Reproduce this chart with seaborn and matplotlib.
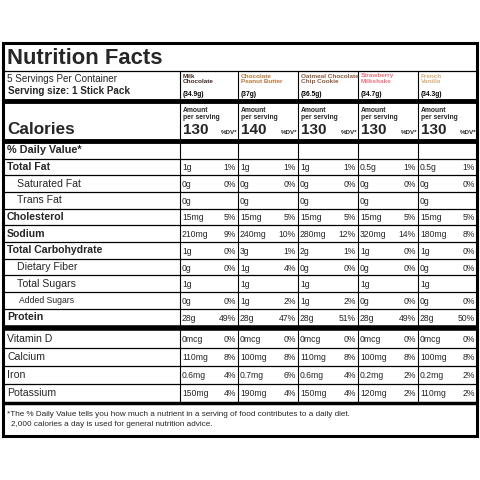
import matplotlib
matplotlib.use("Agg")
import matplotlib.pyplot as plt
import seaborn as sns

sns.set_style("white")
plt.rcParams['font.family'] = ['Liberation Sans', 'DejaVu Sans']

products = ["Milk\nChocolate", "Chocolate\nPeanut Butter", "Oatmeal Chocolate\nChip Cookie", "Strawberry\nMilkshake", "French\nVanilla"]
weights = ["(34.9g)", "(37g)", "(36.5g)", "(34.7g)", "(34.3g)"]
product_colors = ["#3a2a22", "#b8783c", "#8a5a3c", "#e8707e", "#d8b07a"]
calories = [130, 140, 130, 130, 130]

main_labels = ["Total Fat", "Saturated Fat", "Trans Fat", "Cholesterol", "Sodium",
               "Total Carbohydrate", "Dietary Fiber", "Total Sugars", "Added Sugars", "Protein"]
main_bold = [True, False, False, True, True, True, False, False, False, True]
main_indent = [0, 1, 1, 0, 0, 0, 1, 1, 1, 0]
main_amounts = [
    ["1g", "1g", "1g", "0.5g", "0.5g"],
    ["0g", "0g", "0g", "0g", "0g"],
    ["0g", "0g", "0g", "0g", "0g"],
    ["15mg", "15mg", "15mg", "15mg", "15mg"],
    ["210mg", "240mg", "280mg", "320mg", "180mg"],
    ["1g", "3g", "2g", "1g", "1g"],
    ["0g", "1g", "0g", "0g", "0g"],
    ["1g", "1g", "1g", "1g", "1g"],
    ["0g", "1g", "1g", "0g", "0g"],
    ["28g", "28g", "28g", "28g", "28g"],
]
main_dv = [
    ["1%", "1%", "1%", "1%", "1%"],
    ["0%", "0%", "0%", "0%", "0%"],
    ["", "", "", "", ""],
    ["5%", "5%", "5%", "5%", "5%"],
    ["9%", "10%", "12%", "14%", "8%"],
    ["0%", "1%", "1%", "0%", "0%"],
    ["0%", "4%", "0%", "0%", "0%"],
    ["", "", "", "", ""],
    ["0%", "2%", "2%", "0%", "0%"],
    ["49%", "47%", "51%", "49%", "50%"],
]
vit_labels = ["Vitamin D", "Calcium", "Iron", "Potassium"]
vit_amounts = [
    ["0mcg", "0mcg", "0mcg", "0mcg", "0mcg"],
    ["110mg", "100mg", "110mg", "100mg", "100mg"],
    ["0.6mg", "0.7mg", "0.6mg", "0.2mg", "0.2mg"],
    ["150mg", "190mg", "150mg", "120mg", "110mg"],
]
vit_dv = [
    ["0%", "0%", "0%", "0%", "0%"],
    ["8%", "8%", "8%", "8%", "8%"],
    ["4%", "6%", "4%", "2%", "2%"],
    ["4%", "4%", "4%", "2%", "2%"],
]

fig = plt.figure(figsize=(4.8, 4.8), dpi=100)
ax = fig.add_axes([0, 0, 1, 1])
ax.set_xlim(0, 480)
ax.set_ylim(480, 0)
ax.axis("off")

L, R, T, B = 3, 477, 43, 436
colx = [180, 238, 298, 358, 418, 477]

def hl(y, lw, x0=L, x1=R):
    ax.plot([x0, x1], [y, y], color="black", lw=lw, solid_capstyle="butt")

ax.plot([L, R, R, L, L], [T, T, B, B, T], color="black", lw=2.2, solid_joinstyle="miter")

ax.text(7, 58, "Nutrition Facts", fontsize=15.8, fontweight="bold", va="center")
hl(71, 0.9)
ax.text(7, 79.5, "5 Servings Per Container", fontsize=7.1, va="center")
ax.text(8, 90.5, "Serving size: 1 Stick Pack", fontsize=7.1, fontweight="bold", va="center")

for i in range(5):
    x = colx[i] + 3
    ax.text(x, 73.5, products[i], fontsize=4.6, fontweight="bold", color=product_colors[i],
            va="top", linespacing=1.05)
    ax.text(x, 94, weights[i], fontsize=4.8, fontweight="bold", color="black", va="center")
hl(101, 3.5)

ax.text(7, 129, "Calories", fontsize=12.3, fontweight="bold", va="center")
for i in range(5):
    x = colx[i] + 3
    ax.text(x, 107, "Amount\nper serving", fontsize=4.9, fontweight="bold", va="top", linespacing=0.95)
    ax.text(x, 130, str(calories[i]), fontsize=11, fontweight="bold", va="center")
    ax.text(colx[i + 1] - 1, 132, "%DV*", fontsize=4.5, fontweight="bold", va="center", ha="right")
hl(141, 3.5)

ax.text(7, 150, "% Daily Value*", fontsize=7.8, fontweight="bold", va="center")
rh = 16.7
y0 = 158.5
hl(y0, 0.9)
for r in range(len(main_labels)):
    yc = y0 + rh * (r + 0.5)
    if main_labels[r] == "Added Sugars":
        ax.text(19, yc, main_labels[r], fontsize=6.2, va="center")
    else:
        ax.text(7 + 10 * main_indent[r], yc, main_labels[r], fontsize=7.6,
                fontweight="bold" if main_bold[r] else "normal", va="center")
    for i in range(5):
        ax.text(colx[i] + 2, yc + 1, main_amounts[r][i], fontsize=6.2, va="center")
        ax.text(colx[i + 1] - 2, yc + 1, main_dv[r][i], fontsize=6.2, va="center", ha="right")
    if r < len(main_labels) - 1:
        hl(y0 + rh * (r + 1), 0.9)
hl(327.5, 4)

vy0, vrh = 330, 18
for r in range(len(vit_labels)):
    yc = vy0 + vrh * (r + 0.5)
    ax.text(7, yc, vit_labels[r], fontsize=7.6, va="center")
    for i in range(5):
        ax.text(colx[i] + 2, yc + 1, vit_amounts[r][i], fontsize=6.2, va="center")
        ax.text(colx[i + 1] - 2, yc + 1, vit_dv[r][i], fontsize=6.2, va="center", ha="right")
    if r < len(vit_labels) - 1:
        hl(vy0 + vrh * (r + 1), 0.9)
hl(402.5, 2.5)

for xc in colx[:-1]:
    ax.plot([xc, xc], [71, 101], color="black", lw=0.8)
    ax.plot([xc, xc], [101, 141], color="black", lw=0.8)
    ax.plot([xc, xc], [141, 327], color="black", lw=0.8)
    ax.plot([xc, xc], [328, 402], color="black", lw=0.8)

ax.text(7, 414, "*The % Daily Value tells you how much a nutrient in a serving of food contributes to a daily diet.",
        fontsize=5.9, va="center")
ax.text(11, 425, "2,000 calories a day is used for general nutrition advice.", fontsize=5.9, va="center")

fig.savefig("out.png", dpi=100, facecolor="white")
